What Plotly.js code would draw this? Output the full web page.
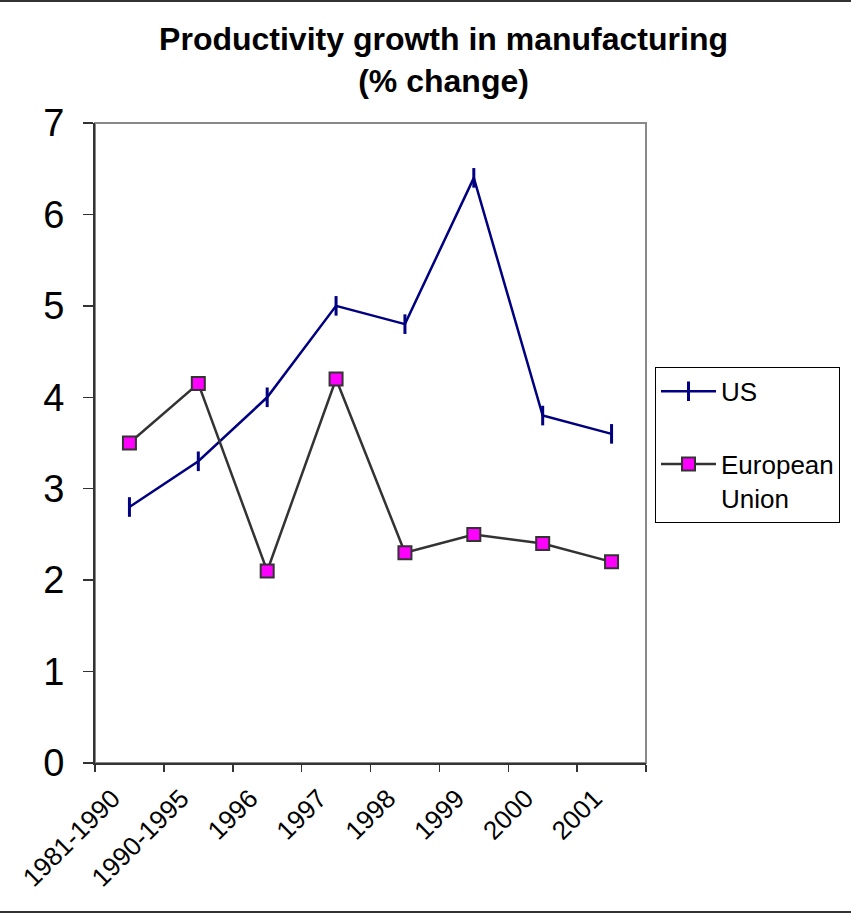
<!DOCTYPE html>
<html>
<head>
<meta charset="utf-8">
<script src="https://cdn.plot.ly/plotly-3.0.1.min.js"></script>
<style>
  html, body { margin: 0; padding: 0; background: #fff; }
  #chart { width: 851px; height: 914px; }
</style>
</head>
<body>
<div id="chart"></div>
<script>
const categories = ["1981-1990", "1990-1995", "1996", "1997", "1998", "1999", "2000", "2001"];
const usValues = [2.8, 3.3, 4.0, 5.0, 4.8, 6.4, 3.8, 3.6];
const euValues = [3.5, 4.15, 2.1, 4.2, 2.3, 2.5, 2.4, 2.2];
const seriesNames = ["US", "European<br>Union"];
const yTicks = [0, 1, 2, 3, 4, 5, 6, 7];

const FONT = "Liberation Sans, Arial, sans-serif";

const traces = [
  {
    x: categories, y: usValues, name: seriesNames[0], type: "scatter", mode: "lines+markers",
    legendgroup: "a",
    line: { color: "#000080", width: 2.5 },
    marker: { symbol: "line-ns", size: 14, line: { color: "#000080", width: 3 } }
  },
  {
    x: categories, y: euValues, name: seriesNames[1], type: "scatter", mode: "lines+markers",
    legendgroup: "b",
    line: { color: "#333333", width: 2.5 },
    marker: { symbol: "square", size: 13, color: "#FF00FF", line: { color: "#333333", width: 2 } }
  }
];

const layout = {
  width: 851, height: 914,
  margin: { l: 95, r: 204, t: 123, b: 151 },
  paper_bgcolor: "#ffffff", plot_bgcolor: "#ffffff",
  font: { family: FONT, color: "#000000" },
  title: {
    text: "<b>Productivity growth in manufacturing<br>(% change)</b>",
    font: { family: FONT, size: 32, color: "#000000" },
    xref: "container", x: 0.5212, xanchor: "center",
    yref: "container", y: 0.945, yanchor: "top"
  },
  xaxis: {
    type: "category",
    range: [-0.5, categories.length - 0.5],
    tickson: "boundaries",
    ticks: "outside", ticklen: 7, tickwidth: 1.5, tickcolor: "#333333",
    showline: true, linecolor: "#333333", linewidth: 2,
    showgrid: false, zeroline: false,
    tickangle: -45,
    ticklabelshift: -17,
    ticklabelstandoff: 8,
    tickfont: { family: FONT, size: 26, color: "#000000" }
  },
  yaxis: {
    range: [0, 7],
    tickvals: yTicks, ticktext: yTicks.map(String),
    ticks: "outside", ticklen: 10, tickwidth: 1.5, tickcolor: "#333333",
    showline: true, linecolor: "#333333", linewidth: 2,
    showgrid: false, zeroline: false,
    ticklabelstandoff: 11,
    tickfont: { family: FONT, size: 38, color: "#000000" }
  },
  showlegend: true,
  legend: {
    x: 1.0145, xanchor: "left", y: 0.619, yanchor: "top",
    bgcolor: "#ffffff", bordercolor: "#000000", borderwidth: 1,
    font: { family: FONT, size: 26, color: "#000000" },
    itemwidth: 55, valign: "top",
    traceorder: "grouped", tracegroupgap: 36
  },
  shapes: [
    { type: "rect", xref: "paper", yref: "paper", x0: 0, x1: 1, y0: 0, y1: 1,
      line: { color: "#888888", width: 2 }, layer: "below" },
    { type: "line", xref: "paper", yref: "paper", x0: -0.18, x1: 1.38, y0: 1.1906, y1: 1.1906,
      line: { color: "#333333", width: 2 } },
    { type: "line", xref: "paper", yref: "paper", x0: -0.18, x1: 1.38, y0: -0.2328, y1: -0.2328,
      line: { color: "#333333", width: 2 } }
  ]
};

Plotly.newPlot("chart", traces, layout, { displayModeBar: false, staticPlot: true });
</script>
</body>
</html>
